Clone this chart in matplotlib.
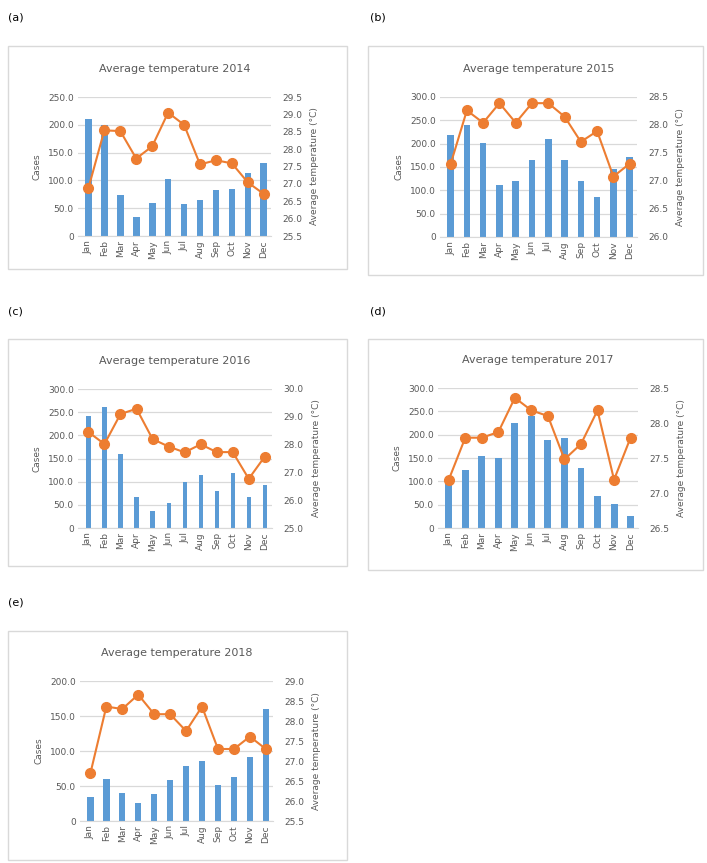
import numpy as np
import matplotlib.pyplot as plt
from matplotlib.patches import Rectangle

months = ['Jan', 'Feb', 'Mar', 'Apr', 'May', 'Jun', 'Jul', 'Aug', 'Sep', 'Oct', 'Nov', 'Dec']
years = [2014, 2015, 2016, 2017, 2018]
panel_tags = ['(a)', '(b)', '(c)', '(d)', '(e)']

cases_2014 = [210, 199, 74, 35, 60, 103, 57, 64, 82, 85, 114, 132]
cases_2015 = [219, 241, 202, 112, 121, 164, 211, 164, 121, 86, 146, 172]
cases_2016 = [241, 262, 159, 67, 37, 54, 99, 115, 80, 119, 67, 93]
cases_2017 = [102, 124, 154, 149, 226, 241, 188, 193, 129, 69, 51, 25]
cases_2018 = [35, 60, 40, 26, 38, 58, 78, 86, 51, 63, 92, 160]

temp_2014 = [26.87, 28.54, 28.52, 27.73, 28.08, 29.05, 28.70, 27.56, 27.68, 27.59, 27.04, 26.71]
temp_2015 = [27.30, 28.26, 28.04, 28.39, 28.04, 28.39, 28.39, 28.15, 27.70, 27.89, 27.08, 27.31]
temp_2016 = [28.45, 28.02, 29.10, 29.29, 28.20, 27.93, 27.72, 28.01, 27.73, 27.73, 26.77, 27.57]
temp_2017 = [27.19, 27.79, 27.79, 27.87, 28.36, 28.18, 28.10, 27.48, 27.70, 28.18, 27.19, 27.79]
temp_2018 = [26.69, 28.36, 28.30, 28.66, 28.17, 28.17, 27.75, 28.36, 27.30, 27.30, 27.61, 27.30]

cases = [cases_2014, cases_2015, cases_2016, cases_2017, cases_2018]
temps = [temp_2014, temp_2015, temp_2016, temp_2017, temp_2018]

# axis ranges per year
left_max = [250, 300, 300, 300, 200]
right_lo = [25.5, 26.0, 25.0, 26.5, 25.5]
right_hi = [29.5, 28.5, 30.0, 28.5, 29.0]
right_step = [0.5, 0.5, 1.0, 0.5, 0.5]
bar_w = [0.42, 0.4, 0.26, 0.42, 0.4]

W, H = 707, 863
BLUE = '#5B9BD5'
ORANGE = '#ED7D31'
GREY = '#595959'
GRID = '#D9D9D9'

fig = plt.figure(figsize=(W / 100, H / 100), dpi=100)
fig.patch.set_facecolor('white')

# pixel boxes: panel frame, plot area, tag position
frames = [(8, 46, 347, 269), (368, 46, 703, 275), (8, 339, 347, 566),
          (368, 339, 703, 570), (8, 631, 347, 860)]
plots = [(78, 97, 271, 236), (440, 97, 637, 237), (78, 389, 272, 528),
         (438, 388, 638, 528), (80, 681, 273, 821)]
tags = [(8, 18), (370, 18), (8, 311), (370, 311), (8, 602)]


def to_fig(x, y):
    return x / W, 1 - y / H


for i in range(5):
    fx0, fy0, fx1, fy1 = frames[i]
    fig.patches.append(Rectangle(to_fig(fx0, fy1), (fx1 - fx0) / W, (fy1 - fy0) / H,
                                 transform=fig.transFigure, fill=False,
                                 edgecolor=GRID, linewidth=1.0))
    tx, ty = to_fig(*tags[i])
    fig.text(tx, ty, panel_tags[i], fontsize=8, color='black', va='center', ha='left')

    x0, y0, x1, y1 = plots[i]
    ax = fig.add_axes([x0 / W, 1 - y1 / H, (x1 - x0) / W, (y1 - y0) / H])
    x = np.arange(len(months))
    ax.bar(x, cases[i], width=bar_w[i], color=BLUE, zorder=2)
    ax.set_xlim(-0.65, 11.45)
    ax.set_ylim(0, left_max[i])
    yt = np.arange(0, left_max[i] + 1, 50)
    ax.set_yticks(yt)
    ax.set_yticklabels([str(v) if v == 0 else f'{v:.1f}' for v in yt])
    ax.yaxis.grid(True, color=GRID, linewidth=0.9, zorder=0)
    ax.set_axisbelow(True)
    for s in ['top', 'right', 'left']:
        ax.spines[s].set_visible(False)
    ax.spines['bottom'].set_color(GRID)
    ax.set_xticks(x)
    ax.set_xticklabels(months, rotation=90)
    ax.tick_params(axis='both', length=0, labelsize=6.5, colors=GREY, pad=3)
    ax.set_ylabel('Cases', fontsize=6.5, color=GREY, labelpad=5)
    ax.set_title(f'Average temperature {years[i]}', fontsize=8, color=GREY, pad=18)

    ax2 = ax.twinx()
    ax2.plot(x, temps[i], color=ORANGE, linewidth=1.5, marker='o',
             markersize=7, zorder=3)
    ax2.set_ylim(right_lo[i], right_hi[i])
    ax2.set_yticks(np.arange(right_lo[i], right_hi[i] + 0.01, right_step[i]))
    ax2.yaxis.set_major_formatter(plt.FormatStrFormatter('%.1f'))
    for s in ax2.spines.values():
        s.set_visible(False)
    ax2.tick_params(axis='y', length=0, labelsize=6.5, colors=GREY, pad=8)
    ax2.set_ylabel('Average temperature (°C)', fontsize=6.5, color=GREY, labelpad=6)

fig.savefig('out.png', dpi=100, facecolor='white')
